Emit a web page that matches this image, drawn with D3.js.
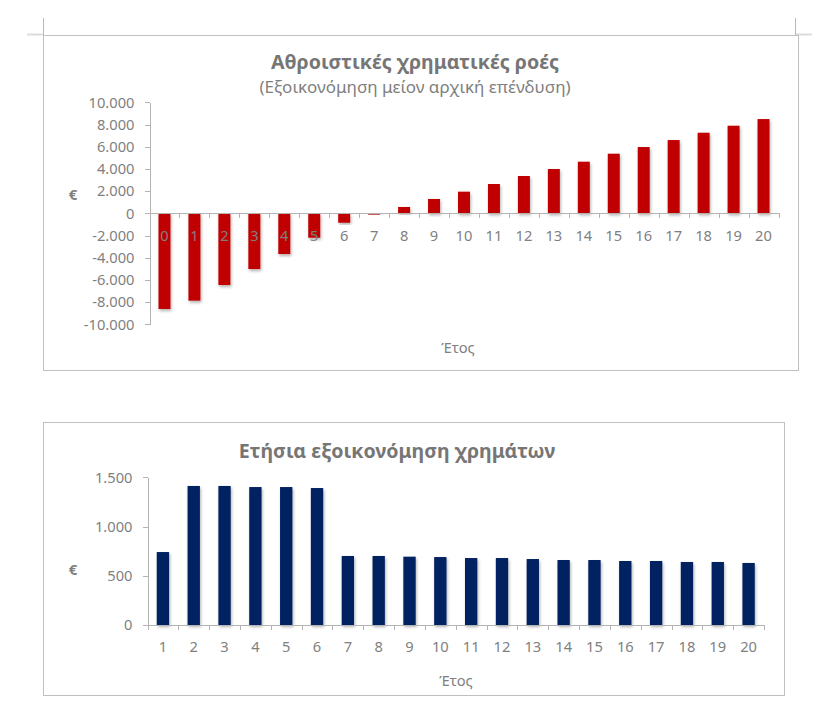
<!DOCTYPE html>
<html lang="el">
<head>
<meta charset="utf-8">
<title>Χρηματικές ροές</title>
<script src="https://cdn.jsdelivr.net/npm/d3@7"></script>
<style>
  body { margin: 0; background: #fff; }
  .axis path, .axis line { stroke: #b3b3b3; shape-rendering: crispEdges; }
  .axis text { font-family: "Noto Sans", sans-serif; font-size: 14.7px; fill: #7f7f7f; }
  .title { font-family: "Noto Sans", sans-serif; font-size: 19.6px; font-weight: bold; fill: #767676; text-anchor: middle; }
  .subtitle { font-family: "Noto Sans", sans-serif; font-size: 17px; fill: #7f7f7f; text-anchor: middle; }
  .label { font-family: "Noto Sans", sans-serif; font-size: 14.7px; fill: #7f7f7f; text-anchor: middle; }
  .unit { font-family: "Noto Sans", sans-serif; font-size: 15px; font-weight: bold; fill: #7f7f7f; text-anchor: middle; dominant-baseline: middle; }
  .frame { fill: none; stroke: #c0c0c0; shape-rendering: crispEdges; }
</style>
</head>
<body>
<script>
// cumulative cash flow (savings minus initial investment)
var cumYears = ["0","1","2","3","4","5","6","7","8","9","10","11","12","13","14","15","16","17","18","19","20"];
var cumValues = [-8620, -7870, -6460, -5020, -3670, -2200, -850, -120, 570, 1290, 1950,
                 2640, 3360, 3990, 4650, 5370, 5970, 6600, 7260, 7890, 8490];
var cumTicks = [-10000, -8000, -6000, -4000, -2000, 0, 2000, 4000, 6000, 8000, 10000];

// yearly savings
var annYears = ["1","2","3","4","5","6","7","8","9","10","11","12","13","14","15","16","17","18","19","20"];
var annValues = [741, 1412, 1412, 1401, 1401, 1391, 701, 701, 694, 690,
                 680, 680, 670, 660, 660, 650, 650, 640, 640, 630];
var annTicks = [0, 500, 1000, 1500];

var w = 836, h = 727;

var loc = d3.formatLocale({decimal: ",", thousands: ".", grouping: [3], currency: ["", "€"], minus: "-"});
var fmt = loc.format(",.0f");

var svg = d3.select("body").append("svg").attr("width", w).attr("height", h);

var defs = svg.append("defs");
defs.append("filter").attr("id", "shadow")
    .attr("x", "-50%").attr("y", "-20%").attr("width", "200%").attr("height", "140%")
  .append("feDropShadow")
    .attr("dx", 1).attr("dy", 2).attr("stdDeviation", 1.6)
    .attr("flood-color", "#000").attr("flood-opacity", 0.3);

// page marks above the first chart
var marks = svg.append("g");
marks.append("line").attr("x1", 43.5).attr("x2", 43.5).attr("y1", 18).attr("y2", 35).attr("stroke", "#b8b8b8");
marks.append("line").attr("x1", 795.5).attr("x2", 795.5).attr("y1", 18).attr("y2", 35).attr("stroke", "#b8b8b8");
marks.append("line").attr("x1", 27).attr("x2", 43).attr("y1", 34.5).attr("y2", 34.5).attr("stroke", "#dcdcdc").attr("stroke-width", 2);
marks.append("line").attr("x1", 796).attr("x2", 812).attr("y1", 34.5).attr("y2", 34.5).attr("stroke", "#dcdcdc").attr("stroke-width", 2);

function drawChart(cfg) {
    var g = svg.append("g");

    g.append("rect").attr("class", "frame")
        .attr("x", cfg.box[0] + 0.5).attr("y", cfg.box[1] + 0.5)
        .attr("width", cfg.box[2] - cfg.box[0]).attr("height", cfg.box[3] - cfg.box[1]);

    var xBand = d3.scaleBand().domain(cfg.cats).range([cfg.x0, cfg.x1])
                  .paddingInner(0.6).paddingOuter(0.3);
    var xEdge = d3.scaleLinear().domain([0, cfg.cats.length]).range([cfg.x0, cfg.x1]);
    var yScale = d3.scaleLinear().domain(cfg.yDomain).range([cfg.yBottom, cfg.yTop]);
    var y0 = yScale(0);

    // y axis
    g.append("g").attr("class", "axis")
        .attr("transform", "translate(" + cfg.x0 + ",0)")
        .call(d3.axisLeft(yScale).tickValues(cfg.ticks).tickFormat(fmt).tickSize(5).tickSizeOuter(0).tickPadding(10));

    // bars
    g.selectAll(".bar").data(cfg.values).enter().append("rect")
        .attr("x", function(d, i) { return xBand(cfg.cats[i]); })
        .attr("y", function(d) { return Math.min(yScale(d), y0); })
        .attr("width", xBand.bandwidth())
        .attr("height", function(d) { return Math.abs(yScale(d) - y0); })
        .attr("fill", cfg.color)
        .attr("filter", "url(#shadow)");

    // x axis line and boundary ticks
    g.append("g").attr("class", "axis")
        .attr("transform", "translate(0," + y0 + ")")
        .call(d3.axisBottom(xEdge).tickValues(d3.range(cfg.cats.length + 1)).tickFormat("").tickSize(5).tickSizeOuter(0));

    // category labels
    var lab = g.append("g").attr("class", "axis")
        .attr("transform", "translate(0," + y0 + ")")
        .call(d3.axisBottom(xBand).tickSize(0).tickPadding(cfg.labPad));
    lab.select(".domain").remove();

    g.append("text").attr("class", "title")
        .attr("x", cfg.titleX).attr("y", cfg.titleY).text(cfg.title);
    if (cfg.subtitle)
        g.append("text").attr("class", "subtitle")
            .attr("x", cfg.titleX).attr("y", cfg.subY).text(cfg.subtitle);

    g.append("text").attr("class", "unit").attr("x", 73).attr("y", cfg.unitY).text("€");
    g.append("text").attr("class", "label").attr("x", cfg.xTitleX).attr("y", cfg.xTitleY).text("Έτος");
}

drawChart({
    box: [43, 35, 798, 370],
    cats: cumYears, values: cumValues, ticks: cumTicks,
    x0: 149.5, x1: 778.5, yDomain: [-10000, 10000], yBottom: 324.3, yTop: 102.3,
    color: "#c00000", labPad: 17,
    title: "Αθροιστικές χρηματικές ροές", subtitle: "(Εξοικονόμηση μείον αρχική επένδυση)",
    titleX: 415, titleY: 69, subY: 93,
    unitY: 196, xTitleX: 458, xTitleY: 353
});

drawChart({
    box: [43, 422, 784, 695],
    cats: annYears, values: annValues, ticks: annTicks,
    x0: 147.5, x1: 764, yDomain: [0, 1500], yBottom: 625, yTop: 477.3,
    color: "#002060", labPad: 17,
    title: "Ετήσια εξοικονόμηση χρημάτων", subtitle: null,
    titleX: 397, titleY: 457.5,
    unitY: 571, xTitleX: 456, xTitleY: 686
});
</script>
</body>
</html>
